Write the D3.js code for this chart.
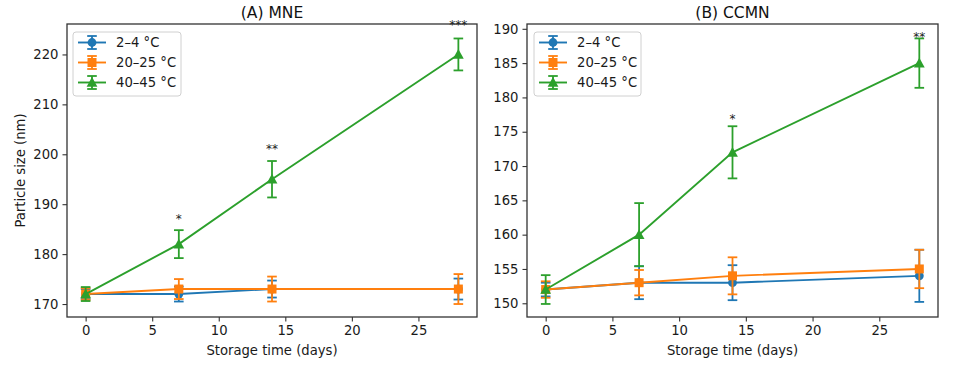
<!DOCTYPE html>
<html>
<head>
<meta charset="utf-8">
<script src="https://cdn.jsdelivr.net/npm/d3@7"></script>
<style>
  html, body { margin: 0; padding: 0; background: #fff; }
  svg { display: block; font-family: "DejaVu Sans", sans-serif; }
</style>
</head>
<body>
<svg id="chart" width="955" height="367"></svg>
<script>
// ---------------- DATA ----------------
const days = [0, 7, 14, 28];
const seriesNames = ["2–4 °C", "20–25 °C", "40–45 °C"];
const seriesColors = ["#1f77b4", "#ff7f0e", "#2ca02c"];
const seriesMarkers = ["circle", "square", "triangle"];

// Panel A: MNE
const mneCold = [172, 172, 173, 173];
const mneColdErr = [1.0, 1.5, 1.7, 2.1];
const mneRoom = [172, 173, 173, 173];
const mneRoomErr = [1.2, 2.0, 2.5, 3.0];
const mneHot = [172, 182, 195, 220];
const mneHotErr = [1.4, 2.8, 3.65, 3.2];
const mneSigDays = [7, 14, 28];
const mneSigLabels = ["*", "**", "***"];
const mneSigY = [187.5, 201.5, 226.5];

// Panel B: CCMN
const ccmnCold = [152, 153, 153, 154];
const ccmnColdErr = [1.0, 2.4, 2.55, 3.8];
const ccmnRoom = [152, 153, 154, 155];
const ccmnRoomErr = [1.2, 1.85, 2.7, 2.8];
const ccmnHot = [152, 160, 172, 185];
const ccmnHotErr = [2.1, 4.6, 3.8, 3.6];
const ccmnSigDays = [14, 28];
const ccmnSigLabels = ["*", "**"];
const ccmnSigY = [177.2, 189.1];

const xTicks = [0, 5, 10, 15, 20, 25];
const mneYTicks = [170, 180, 190, 200, 210, 220];
const ccmnYTicks = [150, 155, 160, 165, 170, 175, 180, 185, 190];

const xLabel = "Storage time (days)";
const yLabel = "Particle size (nm)";

// ---------------- DRAW ----------------
const svg = d3.select("#chart");

const panels = [
  {
    title: "(A) MNE",
    box: {x0: 67, x1: 477, y0: 24, y1: 317},
    yDomain: [167.4, 226.1],
    yTicks: mneYTicks,
    series: [
      {v: mneCold, e: mneColdErr},
      {v: mneRoom, e: mneRoomErr},
      {v: mneHot, e: mneHotErr}
    ],
    sig: {d: mneSigDays, l: mneSigLabels, y: mneSigY},
    legend: {x: 73, y: 32, w: 108, h: 64},
    yLabel: true
  },
  {
    title: "(B) CCMN",
    box: {x0: 527, x1: 938, y0: 24, y1: 317},
    yDomain: [148.0, 190.7],
    yTicks: ccmnYTicks,
    series: [
      {v: ccmnCold, e: ccmnColdErr},
      {v: ccmnRoom, e: ccmnRoomErr},
      {v: ccmnHot, e: ccmnHotErr}
    ],
    sig: {d: ccmnSigDays, l: ccmnSigLabels, y: ccmnSigY},
    legend: {x: 534, y: 32, w: 107, h: 64},
    yLabel: false
  }
];

function drawMarker(g, type, cx, cy, color) {
  if (type === "circle") {
    g.append("circle").attr("cx", cx).attr("cy", cy).attr("r", 4.4).attr("fill", color);
  } else if (type === "square") {
    g.append("rect").attr("x", cx - 4.5).attr("y", cy - 4.5).attr("width", 9).attr("height", 9).attr("fill", color);
  } else {
    const s = 5.4;
    g.append("path")
      .attr("d", `M${cx},${cy - s} L${cx + s},${cy + s * 0.8} L${cx - s},${cy + s * 0.8} Z`)
      .attr("fill", color);
  }
}

function drawErr(g, cx, yTop, yBot, color) {
  g.append("line").attr("x1", cx).attr("x2", cx).attr("y1", yTop).attr("y2", yBot)
    .attr("stroke", color).attr("stroke-width", 1.8);
  [yTop, yBot].forEach(yy => {
    g.append("line").attr("x1", cx - 4.8).attr("x2", cx + 4.8).attr("y1", yy).attr("y2", yy)
      .attr("stroke", color).attr("stroke-width", 1.8);
  });
}

panels.forEach(p => {
  const b = p.box;
  const x = d3.scaleLinear().domain([-1.4, 29.4]).range([b.x0, b.x1]);
  const y = d3.scaleLinear().domain(p.yDomain).range([b.y1, b.y0]);
  const g = svg.append("g");

  // axes
  const xAxis = d3.axisBottom(x).tickValues(xTicks).tickSize(4.5).tickPadding(4).tickFormat(d3.format("d"));
  const gx = g.append("g").attr("transform", `translate(0,${b.y1})`).call(xAxis);
  const yAxis = d3.axisLeft(y).tickValues(p.yTicks).tickSize(4.5).tickPadding(4).tickFormat(d3.format("d"));
  const gy = g.append("g").attr("transform", `translate(${b.x0},0)`).call(yAxis);
  [gx, gy].forEach(a => {
    a.select(".domain").remove();
    a.selectAll(".tick line").attr("stroke", "#333").attr("stroke-width", 1.1);
    a.selectAll(".tick text").attr("fill", "#1a1a1a").style("font-size", "13.2px")
      .style("font-family", "'DejaVu Sans', sans-serif");
  });

  // series
  const lineGen = d3.line().x(d => x(d[0])).y(d => y(d[1]));
  p.series.forEach((s, i) => {
    const color = seriesColors[i];
    const sg = g.append("g");
    const pts = days.map((d, j) => [d, s.v[j]]);
    sg.append("path").attr("d", lineGen(pts)).attr("fill", "none")
      .attr("stroke", color).attr("stroke-width", 1.9);
    days.forEach((d, j) => {
      drawErr(sg, x(d), y(s.v[j] + s.e[j]), y(s.v[j] - s.e[j]), color);
    });
    days.forEach((d, j) => {
      drawMarker(sg, seriesMarkers[i], x(d), y(s.v[j]), color);
    });
  });

  // frame
  g.append("rect").attr("x", b.x0).attr("y", b.y0).attr("width", b.x1 - b.x0).attr("height", b.y1 - b.y0)
    .attr("fill", "none").attr("stroke", "#333").attr("stroke-width", 1.3);

  // significance
  p.sig.d.forEach((d, j) => {
    g.append("text").attr("x", x(d)).attr("y", y(p.sig.y[j]) + 6.5)
      .attr("text-anchor", "middle").style("font-size", "12px").attr("fill", "#222")
      .text(p.sig.l[j]);
  });

  // title
  g.append("text").attr("x", (b.x0 + b.x1) / 2).attr("y", 18)
    .attr("text-anchor", "middle").style("font-size", "15.5px").attr("fill", "#111").text(p.title);

  // x label
  g.append("text").attr("x", (b.x0 + b.x1) / 2).attr("y", 355)
    .attr("text-anchor", "middle").style("font-size", "13.2px").attr("fill", "#1a1a1a").text(xLabel);

  if (p.yLabel) {
    g.append("text").attr("transform", `translate(25,${(b.y0 + b.y1) / 2}) rotate(-90)`)
      .attr("text-anchor", "middle").style("font-size", "13.2px").attr("fill", "#1a1a1a").text(yLabel);
  }

  // legend
  const L = p.legend;
  const lg = g.append("g");
  lg.append("rect").attr("x", L.x).attr("y", L.y).attr("width", L.w).attr("height", L.h)
    .attr("rx", 3).attr("fill", "#fff").attr("fill-opacity", 0.85)
    .attr("stroke", "#d0d0d0").attr("stroke-width", 1);
  seriesNames.forEach((name, i) => {
    const cy = L.y + 10.5 + i * 20;
    const x0 = L.x + 5, x1 = L.x + 33, cx = (x0 + x1) / 2;
    const color = seriesColors[i];
    lg.append("line").attr("x1", x0).attr("x2", x1).attr("y1", cy).attr("y2", cy)
      .attr("stroke", color).attr("stroke-width", 1.9);
    drawErr(lg, cx, cy - 6.5, cy + 6.5, color);
    drawMarker(lg, seriesMarkers[i], cx, cy, color);
    lg.append("text").attr("x", L.x + 43).attr("y", cy + 4.7)
      .style("font-size", "13.2px").attr("fill", "#1a1a1a").text(name);
  });
});
</script>
</body>
</html>
